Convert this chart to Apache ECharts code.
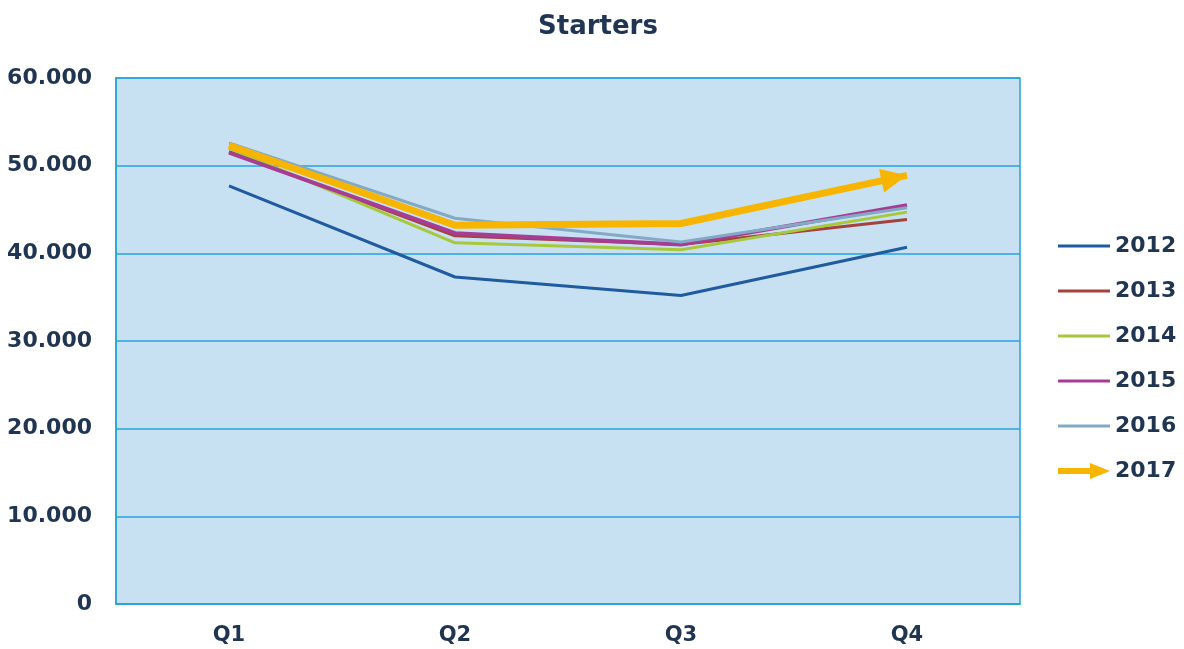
<!DOCTYPE html>
<html><head><meta charset="utf-8">
<script src="https://cdn.jsdelivr.net/npm/echarts@6/dist/echarts.min.js"></script>
<style>html,body{margin:0;padding:0;background:#fff}#c{width:1184px;height:649px}</style>
</head><body><div id="c"></div>
<script>
const categories = ['Q1','Q2','Q3','Q4'];
const yearNames = ['2012','2013','2014','2015','2016','2017'];
const s2012 = [47700, 37300, 35200, 40700];
const s2013 = [51600, 42000, 41000, 43850];
const s2014 = [52000, 41200, 40400, 44700];
const s2015 = [51500, 42300, 41000, 45500];
const s2016 = [52600, 44000, 41300, 45200];
const s2017 = [52300, 43200, 43400, 48900];
const yTicks = [0, 10000, 20000, 30000, 40000, 50000, 60000];

const colors = ['#1f5b9e','#a5423f','#a8c83c','#a63d93','#84a9c4','#f7b500'];
const widths = [3, 3, 3, 4, 3, 7];
const values = [s2012, s2013, s2014, s2015, s2016, s2017];
const font = '"DejaVu Sans", Arial, sans-serif';
const textColor = '#1f3552';

const chart = echarts.init(document.getElementById('c'));
const series = values.map((v, i) => ({
  name: yearNames[i], type: 'line', data: v,
  color: colors[i],
  lineStyle: {width: widths[i], color: colors[i]},
  showSymbol: false, symbol: 'none', animation: false,
  z: 2 + i
}));
const option = {
  animation: false,
  title: {text: 'Starters', left: 533, top: 9,
    textStyle: {fontFamily: font, fontSize: 26, fontWeight: 'bold', color: textColor}},
  grid: {left: 116, right: 164, top: 78, bottom: 45, show: true,
    backgroundColor: '#c7e1f3', borderColor: '#27a3dc', borderWidth: 1.5},
  legend: [{
    data: yearNames.slice(0,5), orient: 'vertical', left: 1053, top: 230,
    icon: 'rect', itemWidth: 52, itemHeight: 3, itemGap: 23, itemTextGap: 8,
    textStyle: {fontFamily: font, fontSize: 22, fontWeight: 'bold', color: textColor, lineHeight: 22}
  }, {
    data: [{name: '2017', icon: 'path://M0,5 L32,5 L32,0 L52,8 L32,16 L32,11 L0,11 Z'}],
    orient: 'vertical', left: 1053, top: 455, itemTextGap: 8,
    itemWidth: 52, itemHeight: 18,
    textStyle: {fontFamily: font, fontSize: 22, fontWeight: 'bold', color: textColor, lineHeight: 22}
  }],
  xAxis: {type: 'category', data: categories, boundaryGap: true,
    axisLine: {show: true, lineStyle: {color: '#27a3dc', width: 1.5}},
    axisTick: {show: false},
    axisLabel: {fontFamily: font, fontSize: 21, fontWeight: 'bold', color: textColor, margin: 21}},
  yAxis: {type: 'value', min: yTicks[0], max: yTicks[yTicks.length-1], interval: 10000,
    axisLine: {show: true, lineStyle: {color: '#27a3dc', width: 1.5}},
    axisTick: {show: false},
    splitLine: {lineStyle: {color: '#27a3dc', width: 1.5}},
    axisLabel: {fontFamily: font, fontSize: 22, fontWeight: 'bold', color: textColor, margin: 24,
      formatter: v => v === 0 ? '0' : (v/1000).toFixed(0) + '.000'}},
  series: series
};
chart.setOption(option);

// Arrow head at end of 2017 line, oriented along the last segment
const p3 = chart.convertToPixel({seriesIndex: 5}, [2, s2017[2]]);
const p4 = chart.convertToPixel({seriesIndex: 5}, [3, s2017[3]]);
const dx = p4[0]-p3[0], dy = p4[1]-p3[1];
const len = Math.hypot(dx, dy);
const ux = dx/len, uy = dy/len;
const angle = Math.atan2(-dy, dx) * 180 / Math.PI;
const headLen = 26;
chart.setOption({series: [{},{},{},{},{},{
  markPoint: {
    symbol: 'triangle', symbolSize: [24, headLen],
    symbolRotate: angle - 90,
    symbolOffset: [-ux*headLen/2, -uy*headLen/2],
    itemStyle: {color: colors[5]}, label: {show: false},
    data: [{coord: [3, s2017[3]]}]
  }
}]});
</script></body></html>
